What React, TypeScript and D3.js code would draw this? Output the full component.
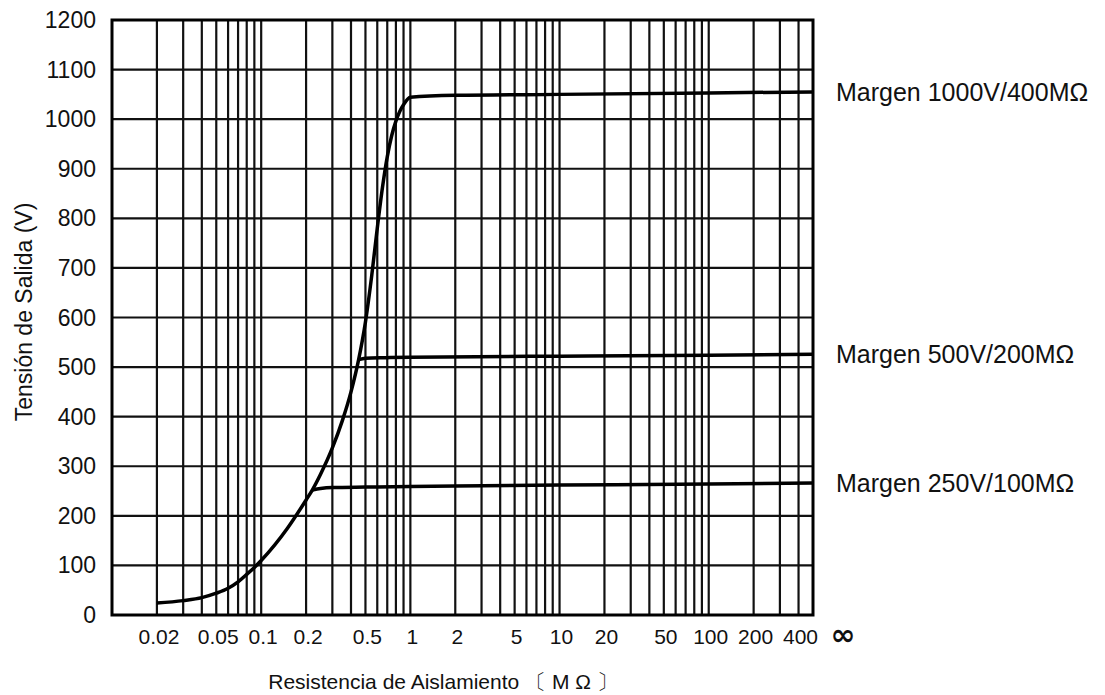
import React, { useEffect, useRef } from "react";
import * as d3 from "d3";

// tick labels
const yTicks = [0, 100, 200, 300, 400, 500, 600, 700, 800, 900, 1000, 1100, 1200];
const xTickValues = [0.02, 0.05, 0.1, 0.2, 0.5, 1, 2, 5, 10, 20, 50, 100, 200, 400];
const xTickLabels = ["0.02", "0.05", "0.1", "0.2", "0.5", "1", "2", "5", "10", "20", "50", "100", "200", "400"];

// main curve (1000V / 400MΩ)
const mainR = [0.02, 0.03, 0.04, 0.05, 0.06, 0.07, 0.08, 0.09, 0.1, 0.15, 0.2, 0.22, 0.25, 0.3, 0.35, 0.4, 0.45, 0.5, 0.55, 0.6, 0.65, 0.7, 0.75, 0.8, 0.85, 0.9, 1, 2, 10, 100, 500];
const mainV = [24, 29, 35, 44, 54, 67, 82, 96, 110, 175, 232, 252, 284, 337, 392, 450, 515, 591, 683, 780, 862, 924, 967, 996, 1016, 1029, 1044, 1048, 1050, 1053, 1055];

// 500V / 200MΩ branch
const mid500R = [0.45, 0.5, 0.7, 1, 10, 100, 500];
const mid500V = [515, 518, 519, 520, 522, 524, 526];

// 250V / 100MΩ branch
const low250R = [0.22, 0.25, 0.3, 0.5, 1, 10, 100, 500];
const low250V = [252, 255, 257, 258, 259, 262, 264, 266];

const seriesLabels = ["Margen 1000V/400MΩ", "Margen 500V/200MΩ", "Margen 250V/100MΩ"];

const App = () => {
  const ref = useRef(null);
  const width = 1105;
  const height = 695;
  const margin = { top: 20, right: 292, bottom: 80, left: 112 };

  useEffect(() => {
    const svg = d3.select(ref.current);
    svg.selectAll("*").remove();

    const x = d3.scaleLog().domain([0.01, 500]).range([margin.left, width - margin.right]);
    const y = d3.scaleLinear().domain([0, 1200]).range([height - margin.bottom, margin.top]);
    const font = "'Liberation Sans', Arial, Helvetica, sans-serif";

    // vertical grid (log multiples)
    const gridX = x.ticks().filter(v => v > 0.011 && v < 450);
    svg.append("g")
      .selectAll("line")
      .data(gridX)
      .enter()
      .append("line")
      .attr("x1", d => x(d))
      .attr("x2", d => x(d))
      .attr("y1", y(0))
      .attr("y2", y(1200))
      .style("stroke", "#111")
      .style("stroke-width", 2.2);

    // horizontal grid
    svg.append("g")
      .selectAll("line")
      .data(yTicks.slice(1, -1))
      .enter()
      .append("line")
      .attr("x1", x(0.01))
      .attr("x2", x(500))
      .attr("y1", d => y(d))
      .attr("y2", d => y(d))
      .style("stroke", "#111")
      .style("stroke-width", 2.2);

    // frame
    svg.append("rect")
      .attr("x", x(0.01))
      .attr("y", y(1200))
      .attr("width", x(500) - x(0.01))
      .attr("height", y(0) - y(1200))
      .style("fill", "none")
      .style("stroke", "#000")
      .style("stroke-width", 3);

    // y tick labels
    svg.append("g")
      .selectAll("text")
      .data(yTicks)
      .enter()
      .append("text")
      .attr("x", 96)
      .attr("y", d => y(d))
      .attr("text-anchor", "end")
      .attr("dominant-baseline", "central")
      .style("font-family", font)
      .style("font-size", "23px")
      .style("fill", "#111")
      .text(d => d);

    // x tick labels
    svg.append("g")
      .selectAll("text")
      .data(xTickValues)
      .enter()
      .append("text")
      .attr("x", d => x(d) + 2)
      .attr("y", 636)
      .attr("text-anchor", "middle")
      .attr("dominant-baseline", "central")
      .style("font-family", font)
      .style("font-size", "21px")
      .style("fill", "#111")
      .text((d, i) => xTickLabels[i]);

    svg.append("text")
      .attr("x", x(500) + 30)
      .attr("y", 634)
      .attr("text-anchor", "middle")
      .attr("dominant-baseline", "central")
      .style("font-family", "'DejaVu Sans', sans-serif")
      .style("font-size", "30px")
      .style("font-weight", "bold")
      .style("fill", "#111")
      .text("∞");

    // axis titles
    svg.append("text")
      .attr("x", 443)
      .attr("y", 681)
      .attr("text-anchor", "middle")
      .attr("dominant-baseline", "central")
      .style("font-family", font)
      .style("font-size", "21px")
      .style("fill", "#111")
      .text("Resistencia de Aislamiento 〔 M Ω 〕");

    svg.append("text")
      .attr("transform", "translate(24,312) rotate(-90)")
      .attr("text-anchor", "middle")
      .attr("dominant-baseline", "central")
      .style("font-family", font)
      .style("font-size", "23px")
      .style("fill", "#111")
      .text("Tensión de Salida (V)");

    // curves
    const line = d3.line()
      .x(d => x(d[0]))
      .y(d => y(d[1]))
      .curve(d3.curveMonotoneX);

    const series = [
      mainR.map((r, i) => [r, mainV[i]]),
      mid500R.map((r, i) => [r, mid500V[i]]),
      low250R.map((r, i) => [r, low250V[i]]),
    ];

    svg.append("g")
      .selectAll("path")
      .data(series)
      .enter()
      .append("path")
      .attr("d", d => line(d))
      .style("fill", "none")
      .style("stroke", "#000")
      .style("stroke-width", 3.5)
      .style("stroke-linejoin", "round");

    // right-hand labels
    const ends = [mainV[mainV.length - 1], mid500V[mid500V.length - 1], low250V[low250V.length - 1]];
    svg.append("g")
      .selectAll("text")
      .data(seriesLabels)
      .enter()
      .append("text")
      .attr("x", 836)
      .attr("y", (d, i) => y(ends[i]))
      .attr("dominant-baseline", "central")
      .style("font-family", font)
      .style("font-size", "25px")
      .style("fill", "#111")
      .text(d => d);
  }, []);

  return (
    <svg
      ref={ref}
      width={width}
      height={height}
      style={{ position: "absolute", left: 0, top: 0, background: "white" }}
    />
  );
};

export default App;
